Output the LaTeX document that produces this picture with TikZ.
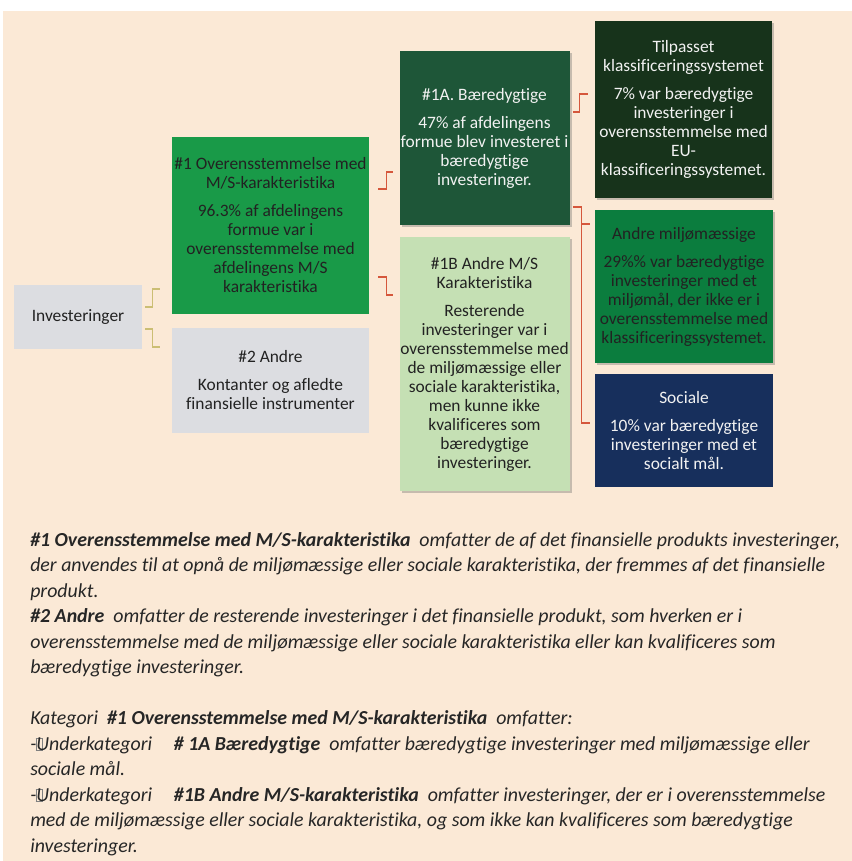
\documentclass[tikz,border=0pt]{standalone}
\usepackage{fontspec}
\setmainfont{Carlito}[Ligatures=NoCommon]
\usetikzlibrary{calc,shadows}
\definecolor{bgbeige}{HTML}{FBE9D6}
\definecolor{boxgray}{HTML}{DCDDE1}
\definecolor{gmain}{HTML}{199A48}
\definecolor{gdark}{HTML}{1E5638}
\definecolor{glight}{HTML}{C5E0B4}
\definecolor{gdeep}{HTML}{17331B}
\definecolor{genv}{HTML}{0B7D3E}
\definecolor{navy}{HTML}{172F5C}
\definecolor{redline}{HTML}{D5573C}
\definecolor{yelline}{HTML}{CBBE74}
\definecolor{darktext}{HTML}{222222}
\definecolor{lighttext}{HTML}{F2F2F2}
\definecolor{bodytext}{HTML}{262626}
\newcommand{\hgap}{\\[6.75pt]}
\newcommand{\tofuglyph}{\rlap{\kern-0.6pt\textcolor{gray}{\setlength{\fboxsep}{0pt}\setlength{\fboxrule}{0.35pt}\raisebox{0.3pt}{\fbox{\rule{0pt}{8.5pt}\rule{4.6pt}{0pt}}}}}}
\tikzset{
  box/.style={rectangle, inner sep=0pt, align=center, text=darktext,
    font=\fontsize{13.05}{14.25}\selectfont},
  lightbox/.style={box, text=lighttext},
  shadowed/.style={drop shadow={shadow xshift=1.6pt, shadow yshift=-1.6pt, opacity=0.35, fill=black!60}},
  yconn/.style={draw=yelline, line width=0.8pt},
  rconn/.style={draw=redline, line width=0.9pt},
  bodyline/.style={anchor=base west, inner sep=0pt, text=bodytext,
    font=\fontsize{14.9}{19.1}\selectfont\itshape}
}
\begin{document}
\begin{tikzpicture}[x=0.75pt, y=-0.75pt]
\useasboundingbox (0,0) rectangle (852,861);
\fill[white] (0,0) rectangle (852,861);
\fill[bgbeige] (3,11) rectangle (852,861);

% boxes
\node[box, fill=boxgray, minimum width=128*0.75pt, minimum height=64*0.75pt] (inv) at (78,317) {Investeringer};
\node[box, fill=gmain, minimum width=197*0.75pt, minimum height=177*0.75pt] (g1) at (270.5,225.5)
  {\#1 Overensstemmelse med\\M/S-karakteristika\hgap 96.3\% af afdelingens\\formue var i\\overensstemmelse med\\afdelingens M/S\\karakteristika};
\node[box, fill=boxgray, minimum width=197*0.75pt, minimum height=105*0.75pt] (a2) at (270.5,380.5)
  {\#2 Andre\hgap Kontanter og afledte\\finansielle instrumenter};
\node[lightbox, shadowed, fill=gdark, minimum width=170*0.75pt, minimum height=174*0.75pt] (g1a) at (484.5,138)
  {\#1A. Bæredygtige\hgap 47\% af afdelingens\\formue blev investeret i\\bæredygtige\\investeringer.};
\node[box, shadowed, fill=glight, minimum width=170*0.75pt, minimum height=254*0.75pt] (g1b) at (484.5,364)
  {\#1B Andre M/S\\Karakteristika\hgap Resterende\\investeringer var i\\overensstemmelse med\\de miljømæssige eller\\sociale karakteristika,\\men kunne ikke\\kvalificeres som\\bæredygtige\\investeringer.};
\node[lightbox, shadowed, fill=gdeep, minimum width=177*0.75pt, minimum height=177*0.75pt] (tax) at (683.5,109.5)
  {Tilpasset\\klassificeringssystemet\hgap 7\% var bæredygtige\\investeringer i\\overensstemmelse med\\EU-\\klassificeringssystemet.};
\node[box, shadowed, fill=genv, minimum width=178*0.75pt, minimum height=153*0.75pt] (env) at (684,286.5)
  {Andre miljømæssige\hgap 29\%\% var bæredygtige\\investeringer med et\\miljømål, der ikke er i\\overensstemmelse med\\klassificeringssystemet.};
\node[lightbox, fill=navy, minimum width=178*0.75pt, minimum height=113*0.75pt] (soc) at (684,430.5)
  {Sociale\hgap 10\% var bæredygtige\\investeringer med et\\socialt mål.};

% connectors
\draw[yconn] ($(inv.east)+(3,-10)$) coordinate (y1s) -- ++(7,0) -- ++(0,-18) -- ++(8,0) coordinate (y1e);
\draw[yconn] ($(inv.east)+(3,12)$) coordinate (y2s) -- ++(7,0) -- ++(0,18) -- ++(8,0) coordinate (y2e);
\draw[rconn] ($(g1.east)+(9,-36.5)$) coordinate (r1s) -- ++(8,0) -- ++(0,-17) -- ++(7,0) coordinate (r1e);
\draw[rconn] ($(g1.east)+(9,51.5)$) coordinate (r2s) -- ++(8,0) -- ++(0,18) -- ++(7,0) coordinate (r2e);
\draw[rconn] ($(g1a.east)+(3,-26)$) coordinate (r3s) -- ++(7,0) -- ++(0,-18) -- ++(8,0) coordinate (r3e);
\draw[rconn] ($(g1a.east)+(3,69)$) coordinate (r4s) -- ++(9,0) coordinate (r4k) -- ++(0,216) -- ++(8,0) coordinate (r4e);
\draw[rconn] ($(r4k)+(0,17)$) -- ++(8,0) coordinate (r5e);

% explanatory text
\node[bodyline] (t1) at (30,546) {\textbf{\#1 Overensstemmelse med M/S-karakteristika}\ \ omfatter de af det finansielle produkts investeringer,};
\node[bodyline] (t2) at (30,571.5) {der anvendes til at opnå de miljømæssige eller sociale karakteristika, der fremmes af det finansielle};
\node[bodyline] (t3) at (30,597) {produkt.};
\node[bodyline] (t4) at (30,622.5) {\textbf{\#2 Andre}\ \ omfatter de resterende investeringer i det finansielle produkt, som hverken er i};
\node[bodyline] (t5) at (30,648) {overensstemmelse med de miljømæssige eller sociale karakteristika eller kan kvalificeres som};
\node[bodyline] (t6) at (30,673.5) {bæredygtige investeringer.};
\node[bodyline] (t7) at (30,724.5) {Kategori\ \ \textbf{\#1 Overensstemmelse med M/S-karakteristika}\ \ omfatter:};
\node[bodyline] (t8) at (30,750) {-\tofuglyph Underkategori\hspace{1.1em}\textbf{\# 1A Bæredygtige}\ \ omfatter bæredygtige investeringer med miljømæssige eller};
\node[bodyline] (t9) at (30,775.5) {sociale mål.};
\node[bodyline] (t10) at (30,801) {-\tofuglyph Underkategori\hspace{1.1em}\textbf{\#1B Andre M/S-karakteristika}\ \ omfatter investeringer, der er i overensstemmelse};
\node[bodyline] (t11) at (30,826.5) {med de miljømæssige eller sociale karakteristika, og som ikke kan kvalificeres som bæredygtige};
\node[bodyline] (t12) at (30,852) {investeringer.};
\end{tikzpicture}
\end{document}
